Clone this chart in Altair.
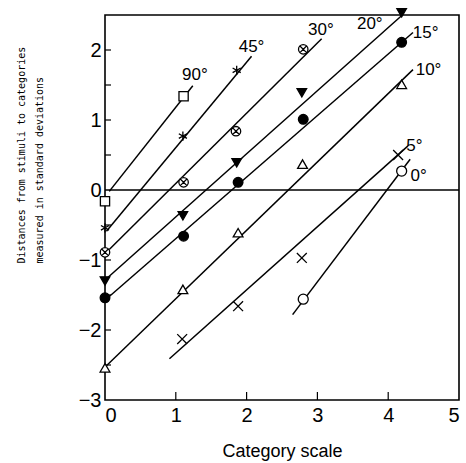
import altair as alt
import pandas as pd

# ---- data ----
series = ["90°", "45°", "30°", "20°", "15°", "10°", "5°", "0°"]

pts_x = {
    "90°": [0.0, 1.11],
    "45°": [0.0, 1.10, 1.86],
    "30°": [0.0, 1.11, 1.85, 2.80],
    "20°": [0.0, 1.10, 1.86, 2.78, 4.19],
    "15°": [0.0, 1.11, 1.88, 2.80, 4.19],
    "10°": [0.0, 1.10, 1.88, 2.79, 4.19],
    "5°": [1.09, 1.88, 2.78, 4.14],
    "0°": [2.80, 4.19],
}
pts_y = {
    "90°": [-0.16, 1.34],
    "45°": [-0.54, 0.77, 1.71],
    "30°": [-0.89, 0.11, 0.84, 2.01],
    "20°": [-1.30, -0.37, 0.39, 1.39, 2.53],
    "15°": [-1.54, -0.66, 0.11, 1.01, 2.11],
    "10°": [-2.54, -1.42, -0.61, 0.37, 1.51],
    "5°": [-2.13, -1.66, -0.97, 0.50],
    "0°": [-1.56, 0.27],
}
# fitted line end points (start, end)
line_x = {
    "90°": [0.06, 1.24], "45°": [0.02, 2.07], "30°": [0.06, 3.06],
    "20°": [0.04, 4.20], "15°": [0.04, 4.35], "10°": [0.02, 4.35],
    "5°": [0.91, 4.28], "0°": [2.65, 4.31],
}
line_y = {
    "90°": [-0.02, 1.49], "45°": [-0.59, 1.91], "30°": [-0.85, 2.16],
    "20°": [-1.25, 2.50], "15°": [-1.54, 2.25], "10°": [-2.51, 1.72],
    "5°": [-2.41, 0.63], "0°": [-1.78, 0.44],
}
label_x = [1.27, 2.07, 3.05, 3.74, 4.53, 4.57, 4.37, 4.43]
label_y = [1.65, 2.05, 2.29, 2.37, 2.25, 1.72, 0.63, 0.20]

x_ticks = [1, 2, 3, 4]
y_ticks = [-2.5, -2, -1.5, -1, -0.5, 0.5, 1, 1.5, 2]
x_labels = [0, 1, 2, 3, 4, 5]
y_labels = [-3, -2, -1, 0, 1, 2]
zero_line = [0]

# ---- tables ----
pts = pd.DataFrame(
    [{"series": s, "x": x, "y": y} for s in series for x, y in zip(pts_x[s], pts_y[s])]
)
lines = pd.DataFrame(
    [{"series": s, "x": x, "y": y} for s in series for x, y in zip(line_x[s], line_y[s])]
)
labels = pd.DataFrame({"series": series, "x": label_x, "y": label_y})

asterisk = "M0,-1L0,1M-0.87,-0.5L0.87,0.5M-0.87,0.5L0.87,-0.5"
otimes = "M-1,0A1,1,0,1,0,1,0A1,1,0,1,0,-1,0ZM-0.7,-0.7L0.7,0.7M-0.7,0.7L0.7,-0.7"
xcross = "M-1,-1L1,1M-1,1L1,-1"
shapes = ["square", asterisk, otimes, "triangle-down", "circle", "triangle-up", xcross, "circle"]
fills = ["white", "white", "white", "black", "black", "white", "white", "white"]
sizes = [85, 100, 110, 100, 70, 120, 64, 140]

xs = alt.Scale(domain=[0, 5], nice=False, zero=False)
ys = alt.Scale(domain=[-3, 2.5], nice=False, zero=False)

FONT = "Liberation Sans"

x_enc = alt.X(
    "x:Q", scale=xs,
    axis=alt.Axis(
        values=x_labels, format="d", title="Category scale", domain=False, ticks=False,
        grid=False, labelFontSize=20, labelFont=FONT, labelPadding=5, labelColor="black",
        titleFontSize=18, titleFont=FONT, titleFontWeight="normal", titleColor="black",
        titleY=56, titleBaseline="alphabetic",
    ),
)
y_enc = alt.Y(
    "y:Q", scale=ys,
    axis=alt.Axis(
        values=y_labels, format="d",
        title=["Distances from stimuli to categories", "measured in standard deviations"],
        domain=False, ticks=False, grid=False,
        labelFontSize=20, labelFont=FONT, labelPadding=4, labelColor="black",
        titleFontSize=10, titleFont="DejaVu Sans Mono", titleFontWeight="normal",
        titleColor="black", titleAngle=270, titleAlign="left", titleBaseline="top",
        titleX=-89, titleY=248, titleLineHeight=18,
    ),
)

line_layer = alt.Chart(lines).mark_line(color="black", strokeWidth=1.5).encode(
    x=x_enc, y=y_enc, detail="series:N"
)
point_layer = alt.Chart(pts).mark_point(stroke="black", strokeWidth=1.3, opacity=1).encode(
    x="x:Q", y="y:Q",
    shape=alt.Shape("series:N", scale=alt.Scale(domain=series, range=shapes), legend=None),
    fill=alt.Fill("series:N", scale=alt.Scale(domain=series, range=fills), legend=None),
    size=alt.Size("series:O", scale=alt.Scale(domain=series, range=sizes), legend=None),
)
label_layer = alt.Chart(labels).mark_text(
    font=FONT, fontSize=17, color="black", align="center", baseline="middle"
).encode(x="x:Q", y="y:Q", text="series:N")

zero_layer = alt.Chart(pd.DataFrame({"v": zero_line})).mark_rule(
    color="black", strokeWidth=1.5
).encode(y=alt.Y("v:Q", scale=ys))

ytick_layer = alt.Chart(pd.DataFrame({"v": y_ticks})).mark_rule(
    color="black", strokeWidth=1.2
).encode(y=alt.Y("v:Q", scale=ys), x=alt.value(0), x2=alt.value(6))
xtick_layer = alt.Chart(pd.DataFrame({"v": x_ticks})).mark_rule(
    color="black", strokeWidth=1.2
).encode(x=alt.X("v:Q", scale=xs), y=alt.value(385), y2=alt.value(377))

chart = (
    alt.layer(line_layer, zero_layer, ytick_layer, xtick_layer, point_layer, label_layer)
    .properties(
        width=354, height=385,
        autosize=alt.AutoSizeParams(type="none"),
        padding={"left": 105, "top": 15, "right": 7, "bottom": 63},
        background="white",
    )
    .configure_view(stroke="black", strokeWidth=1.6)
)

chart.save("out.html", embed_options={"renderer": "svg", "actions": False})
